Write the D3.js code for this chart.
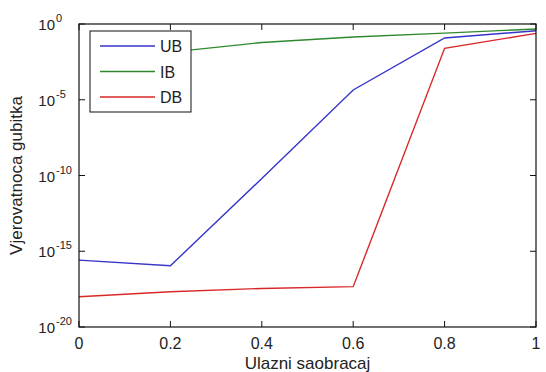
<!DOCTYPE html>
<meta charset="utf-8">
<script src="https://d3js.org/d3.v7.min.js"></script>
<style>
  body { margin: 0; background: #fff; }
  text { font-family: "Liberation Sans", Arial, sans-serif; fill: #222; }
</style>
<div id="chart"></div>
<script>
// data (IB has no value at 0 on the log axis)
var traffic = [0, 0.2, 0.4, 0.6, 0.8, 1];
var ubValues = [2.6e-16, 1.1e-16, 6.3e-11, 4.4e-5, 0.12, 0.36];
var ibValues = [null, 0.014, 0.06, 0.14, 0.25, 0.47];
var dbValues = [1e-18, 2.1e-18, 3.5e-18, 4.6e-18, 0.025, 0.24];
var seriesNames = ["UB", "IB", "DB"];
var seriesColors = ["#3535c8", "#2e8a2e", "#d82828"];
var xTicks = [0, 0.2, 0.4, 0.6, 0.8, 1];
var yTickExps = [0, -5, -10, -15, -20];

var W = 546, H = 372;
var margin = {top: 24, right: 10, bottom: 45, left: 79};
var width = W - margin.left - margin.right,
    height = H - margin.top - margin.bottom;

var svg = d3.select("#chart").append("svg")
    .attr("width", W).attr("height", H);
var g = svg.append("g")
    .attr("transform", "translate(" + margin.left + "," + margin.top + ")");

var x = d3.scaleLinear().domain([0, 1]).range([0, width]);
var y = d3.scaleLog().domain([1e-20, 1]).range([height, 0]);

// lines
var allSeries = [ubValues, ibValues, dbValues];
var line = d3.line()
    .defined(function(d) { return d != null; })
    .x(function(d, i) { return x(traffic[i]); })
    .y(function(d) { return y(d); });

g.selectAll(".series").data(allSeries).enter().append("path")
    .attr("class", "series")
    .attr("d", line)
    .attr("fill", "none")
    .attr("stroke", function(d, i) { return seriesColors[i]; })
    .attr("stroke-width", 1.4);

// box
g.append("rect").attr("width", width).attr("height", height)
    .attr("fill", "none").attr("stroke", "#111").attr("stroke-width", 1.2);

// ticks (inward, all four sides)
var tl = 6;
g.selectAll(".xt").data(xTicks).enter().append("path")
    .attr("d", function(d) {
      var px = x(d);
      return "M" + px + "," + height + "v" + (-tl) + "M" + px + ",0v" + tl;
    })
    .attr("stroke", "#111");
g.selectAll(".yt").data(yTickExps).enter().append("path")
    .attr("d", function(d) {
      var py = y(Math.pow(10, d));
      return "M0," + py + "h" + tl + "M" + width + "," + py + "h" + (-tl);
    })
    .attr("stroke", "#111");

// x tick labels
g.selectAll(".xl").data(xTicks).enter().append("text")
    .attr("x", function(d) { return x(d); })
    .attr("y", height + 22)
    .attr("text-anchor", "middle")
    .style("font-size", "16px")
    .text(function(d) { return d; });

// y tick labels 10^n
var yl = g.selectAll(".yl").data(yTickExps).enter().append("g")
    .attr("transform", function(d) { return "translate(-24," + y(Math.pow(10, d)) + ")"; });
yl.append("text")
    .attr("x", 0).attr("y", 6)
    .attr("text-anchor", "end")
    .style("font-size", "15px")
    .text("10");
yl.append("text")
    .attr("x", 1).attr("y", -2)
    .style("font-size", "11px")
    .text(function(d) { return d; });

// axis titles
svg.append("text")
    .attr("x", margin.left + width / 2).attr("y", 369)
    .attr("text-anchor", "middle")
    .style("font-size", "17px")
    .text("Ulazni saobracaj");
svg.append("text")
    .attr("transform", "translate(22," + (margin.top + height / 2) + ") rotate(-90)")
    .attr("text-anchor", "middle")
    .style("font-size", "17px")
    .text("Vjerovatnoca gubitka");

// legend
var leg = svg.append("g").attr("transform", "translate(90,31)");
leg.append("rect").attr("width", 101).attr("height", 81)
    .attr("fill", "#fff").attr("stroke", "#111").attr("stroke-width", 1);
seriesNames.forEach(function(name, i) {
  var ly = 15 + i * 25.5;
  leg.append("line")
      .attr("x1", 10).attr("x2", 65).attr("y1", ly).attr("y2", ly)
      .attr("stroke", seriesColors[i]).attr("stroke-width", 1.4);
  leg.append("text")
      .attr("x", 70).attr("y", ly + 6)
      .style("font-size", "16px")
      .text(name);
});
</script>
